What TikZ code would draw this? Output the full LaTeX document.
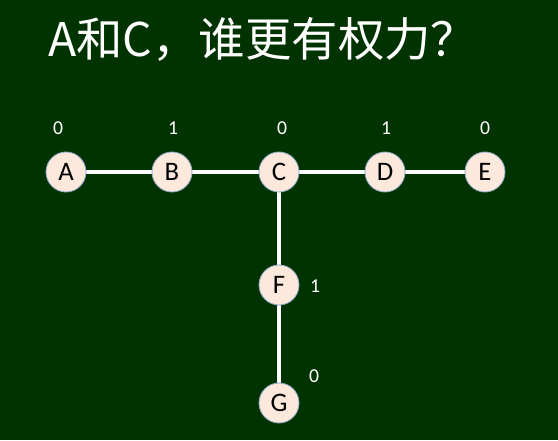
\documentclass[tikz,border=0pt]{standalone}
\usepackage{fontspec}
\setmainfont{Carlito}
\newfontfamily\cjk{Noto Sans CJK SC}
\usepackage{xcolor}
\usepackage{tikz}
\usetikzlibrary{positioning,calc}
\definecolor{boardGreen}{RGB}{0,51,0}
\definecolor{nodePeach}{HTML}{FCE9DC}
\definecolor{nodeRim}{HTML}{8FA8C4}

\begin{document}
\begin{tikzpicture}[x=0.025cm, y=-0.025cm,
  vtx/.style={circle, draw=nodeRim, line width=0.6pt, fill=nodePeach, minimum size=1cm, inner sep=0pt, font=\fontsize{19}{19}\selectfont},
  edge/.style={draw=white, line width=3pt},
  val/.style={text=white, font=\fontsize{14}{14}\selectfont}]
\fill[boardGreen] (0,0) rectangle (558,440);
\useasboundingbox (0,0) rectangle (558,440);
\node[anchor=west, text=white, inner sep=0pt, font=\cjk\fontsize{33}{33}\selectfont] (title) at (48,39) {A和C，谁更有权力？};
% edges first, then vertices on top
\coordinate (pA) at (66,172);
\coordinate (pB) at (172,172);
\coordinate (pC) at (279,172);
\coordinate (pD) at (385,172);
\coordinate (pE) at (485,172);
\coordinate (pF) at (279,285);
\coordinate (pG) at (279,403);
\draw[edge] (pA) -- (pB) -- (pC) -- (pD) -- (pE);
\draw[edge] (pC) -- (pF) -- (pG);
\node[vtx] (A) at (pA) {A};
\node[vtx] (B) at (pB) {B};
\node[vtx] (C) at (pC) {C};
\node[vtx] (D) at (pD) {D};
\node[vtx] (E) at (pE) {E};
\node[vtx] (F) at (pF) {F};
\node[vtx] (G) at (pG) {G};
% scores
\node[val] (vA) at (58,128) {0};
\node[val] (vB) at (173,128) {1};
\node[val] (vC) at (282,128) {0};
\node[val] (vD) at (386,128) {1};
\node[val] (vE) at (485,128) {0};
\node[val] (vF) at (315,286) {1};
\node[val] (vG) at (314,376) {0};
\end{tikzpicture}
\end{document}
